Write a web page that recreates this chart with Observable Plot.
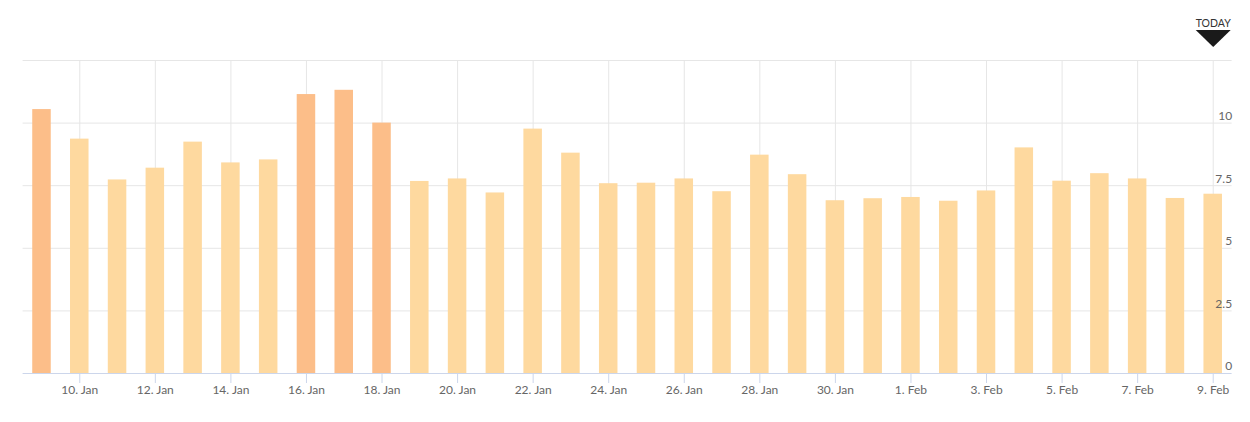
<!DOCTYPE html>
<html>
<head>
<meta charset="utf-8">
<script src="https://cdn.jsdelivr.net/npm/d3@7"></script>
<script src="https://cdn.jsdelivr.net/npm/@observablehq/plot@0.6"></script>
<style>
  html, body { margin: 0; padding: 0; background: #fff; }
  #chart svg { font-family: Lato, "Open Sans", sans-serif; overflow: visible; display: block; }
</style>
</head>
<body>
<div id="chart"></div>
<script>
const dates = ["9. Jan","10. Jan","11. Jan","12. Jan","13. Jan","14. Jan","15. Jan","16. Jan","17. Jan","18. Jan",
  "19. Jan","20. Jan","21. Jan","22. Jan","23. Jan","24. Jan","25. Jan","26. Jan","27. Jan","28. Jan",
  "29. Jan","30. Jan","31. Jan","1. Feb","2. Feb","3. Feb","4. Feb","5. Feb","6. Feb","7. Feb","8. Feb","9. Feb"];
const values = [10.54, 9.36, 7.73, 8.2, 9.24, 8.41, 8.53, 11.14, 11.31, 10.0,
  7.67, 7.77, 7.21, 9.76, 8.8, 7.58, 7.6, 7.77, 7.26, 8.72,
  7.94, 6.9, 6.98, 7.03, 6.88, 7.29, 9.01, 7.68, 7.98, 7.77, 6.99, 7.16];
const levels = ["high","normal","normal","normal","normal","normal","normal","high","high","high",
  "normal","normal","normal","normal","normal","normal","normal","normal","normal","normal",
  "normal","normal","normal","normal","normal","normal","normal","normal","normal","normal","normal","normal"];
const xTickLabels = ["10. Jan","12. Jan","14. Jan","16. Jan","18. Jan","20. Jan","22. Jan","24. Jan","26. Jan","28. Jan",
  "30. Jan","1. Feb","3. Feb","5. Feb","7. Feb","9. Feb"];
const yTicks = [0, 2.5, 5, 7.5, 10, 12.5];
const yTickLabels = ["0", "2.5", "5", "7.5", "10"];
const today = ["9. Feb"];
const todayText = "TODAY";

const rows = dates.map((d, i) => ({date: d, value: values[i], level: levels[i]}));
const colorOf = {high: "#fcbe89", normal: "#fed99f"};

const wideTriangle = {
  draw(context, size) {
    const r = Math.sqrt(size / Math.PI);
    const h = r * 0.97;
    context.moveTo(-r, -h / 2);
    context.lineTo(r, -h / 2);
    context.lineTo(0, h / 2);
    context.closePath();
  }
};

const chart = Plot.plot({
  width: 1250,
  height: 422,
  marginTop: 60,
  marginBottom: 49,
  marginLeft: 22.6,
  marginRight: 18.4,
  style: {fontSize: "12px", background: "#fff"},
  x: {type: "band", domain: dates, paddingInner: 0.51, paddingOuter: 0.255, round: false, label: null},
  y: {domain: [0, 12.5], label: null},
  marks: [
    Plot.gridY(yTicks.slice(1), {stroke: "#e6e6e6", strokeOpacity: 1}),
    Plot.gridX(xTickLabels, {stroke: "#e6e6e6", strokeOpacity: 1}),
    Plot.barY(rows, {x: "date", y: "value", fill: d => colorOf[d.level]}),
    Plot.ruleY([0], {stroke: "#ccd6eb"}),
    Plot.axisX(xTickLabels, {tickSize: 10, tickPadding: 2, stroke: "#ccd6eb", fill: "#666", fontSize: 12}),
    Plot.axisY({ticks: []}),
    Plot.text(yTickLabels, {y: (d, i) => yTicks[i], text: d => d, frameAnchor: "right", textAnchor: "end", dy: -7, fill: "#666", fontSize: 12}),
    Plot.text(today, {x: d => d, text: () => todayText, frameAnchor: "top", dy: -41, fill: "#333", fontSize: 10.5}),
    Plot.dot(today, {x: d => d, frameAnchor: "top", dy: -22, r: 17.5, symbol: wideTriangle, fill: "#1a1a1a", stroke: "none"})
  ]
});
document.getElementById("chart").appendChild(chart);
</script>
</body>
</html>
